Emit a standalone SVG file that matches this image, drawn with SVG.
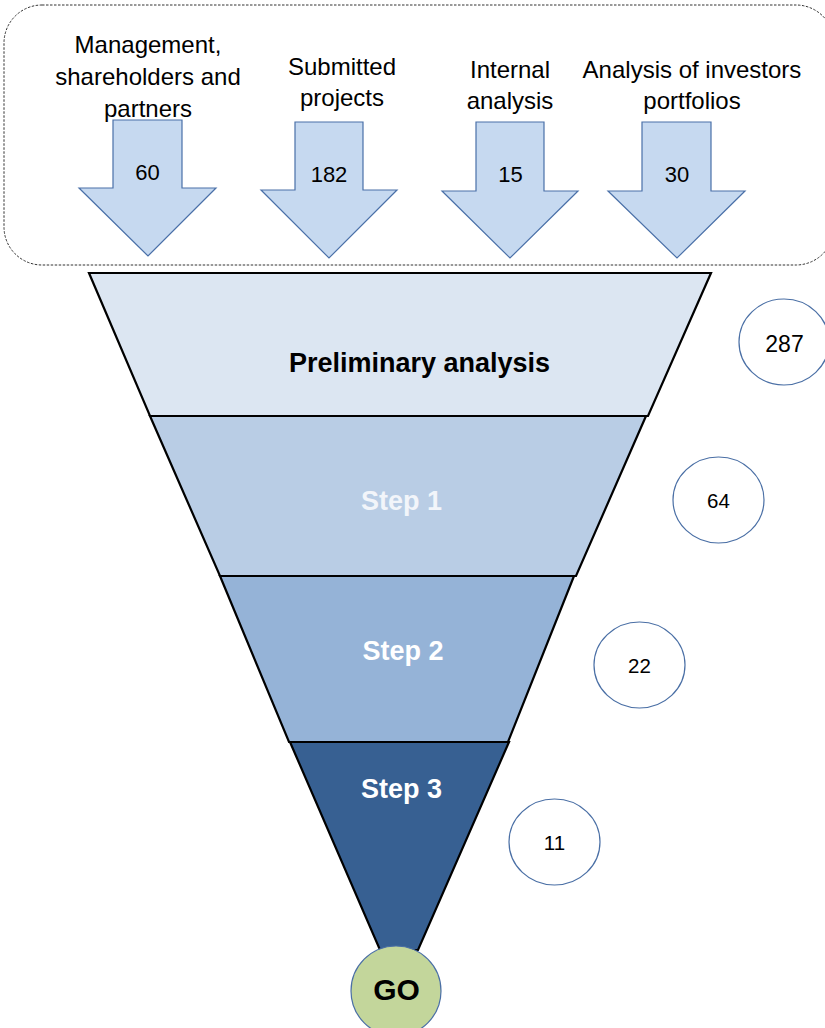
<svg xmlns="http://www.w3.org/2000/svg" width="825" height="1028" viewBox="0 0 825 1028">
<style>
.lbl{font-family:"Liberation Sans",Arial,sans-serif;font-size:24px;fill:#000;text-anchor:middle}
.num{font-family:"Liberation Sans",Arial,sans-serif;font-size:22px;fill:#000;text-anchor:middle}
.cnum{font-family:"Liberation Sans",Arial,sans-serif;font-size:20.5px;fill:#000;text-anchor:middle}
.arrow{fill:#c6d9f0;stroke:#4a70a8;stroke-width:1.2}
.layer{stroke:#000;stroke-width:2.2;stroke-linejoin:miter}
.step{font-family:"Liberation Sans",Arial,sans-serif;font-size:27px;font-weight:bold;text-anchor:middle}
.count{fill:#fff;stroke:#4a6fa5;stroke-width:1.2}
</style>
<rect width="825" height="1028" fill="#fff"/>
<g id="sources">
<rect x="4" y="5" width="830" height="260" rx="38" ry="38" fill="none" stroke="#333" stroke-width="1" stroke-dasharray="2.5,1.5"/>
</g>
<g id="src-management">
<polygon class="arrow" points="113,120 182,120 182,188 216,188 148,256 79,188 113,188"/>
<text class="lbl" x="148" y="53">Management,</text>
<text class="lbl" x="148" y="85">shareholders and</text>
<text class="lbl" x="148" y="117">partners</text>
<text class="num" x="147.5" y="180">60</text>
</g>
<g id="src-submitted">
<polygon class="arrow" points="295,122 363,122 363,190 397,190 329,258 261,190 295,190"/>
<text class="lbl" x="342" y="75">Submitted</text>
<text class="lbl" x="342" y="106">projects</text>
<text class="num" x="329" y="182">182</text>
</g>
<g id="src-internal">
<polygon class="arrow" points="476,122 544,122 544,191 578,191 510,258 442,191 476,191"/>
<text class="lbl" x="510" y="78">Internal</text>
<text class="lbl" x="510" y="109">analysis</text>
<text class="num" x="510.5" y="182">15</text>
</g>
<g id="src-portfolios">
<polygon class="arrow" points="642,122 711,122 711,191 745,191 677,258 608,191 642,191"/>
<text class="lbl" x="692" y="78">Analysis of investors</text>
<text class="lbl" x="692" y="109">portfolios</text>
<text class="num" x="677" y="182">30</text>
</g>
<g id="connectors"></g>
<g id="layer-preliminary">
<polygon class="layer" fill="#dce6f2" points="89,273 711,273 648,416 150,416"/>
<text class="step" x="419.5" y="372" fill="#000">Preliminary analysis</text>
</g>
<g id="layer-step1">
<polygon class="layer" fill="#b9cde5" points="150,416 646,416 576,576 220,576"/>
<text class="step" x="401.5" y="510" fill="#f2f5fa">Step 1</text>
</g>
<g id="layer-step2">
<polygon class="layer" fill="#95b3d7" points="220,576 574,576 508,742 289,742"/>
<text class="step" x="403" y="660" fill="#fff">Step 2</text>
</g>
<g id="layer-step3">
<polygon class="layer" fill="#376092" points="290,742 509,742 418,950 380,950"/>
<text class="step" x="401.5" y="798" fill="#fff">Step 3</text>
</g>
<g id="go">
<circle cx="396" cy="991" r="45" fill="#c3d69b" stroke="#4a6fa5" stroke-width="1.2"/>
<text class="step" x="396.5" y="1000" fill="#000" style="font-size:30px">GO</text>
</g>
<g id="count-287">
<ellipse class="count" cx="784" cy="342" rx="45" ry="43"/>
<text class="cnum" x="784.5" y="352" style="font-size:23px">287</text>
</g>
<g id="count-64">
<ellipse class="count" cx="718.5" cy="500" rx="45.5" ry="43"/>
<text class="cnum" x="718.5" y="508">64</text>
</g>
<g id="count-22">
<ellipse class="count" cx="639.5" cy="665" rx="45.5" ry="43"/>
<text class="cnum" x="639.5" y="673">22</text>
</g>
<g id="count-11">
<ellipse class="count" cx="554.5" cy="842" rx="45.5" ry="43"/>
<text class="cnum" x="554.5" y="850">11</text>
</g>
</svg>
